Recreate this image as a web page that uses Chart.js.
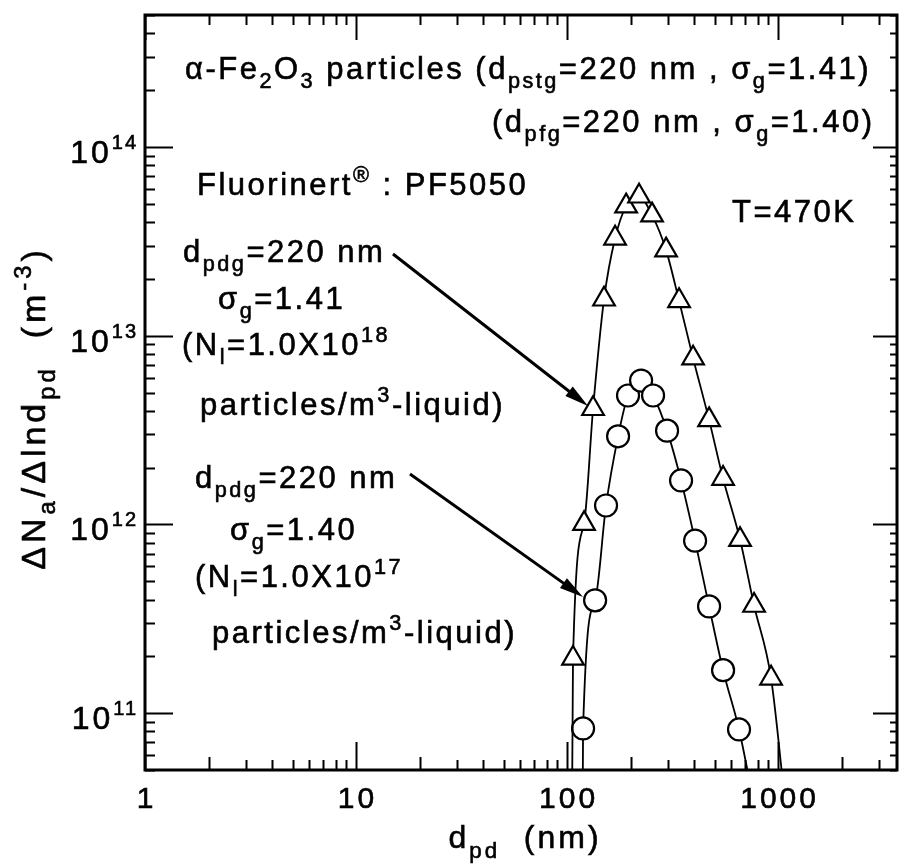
<!DOCTYPE html>
<html>
<head>
<meta charset="utf-8">
<script src="https://cdn.jsdelivr.net/npm/chart.js@4.4.0/dist/chart.umd.min.js"></script>
<style>
  html, body { margin: 0; padding: 0; background: #fff; overflow: hidden; }
  canvas { display: block; }
</style>
</head>
<body>
<canvas id="myChart" width="899" height="868"></canvas>
<script>
const ctx = document.getElementById('myChart').getContext('2d');

// axis tick labels
const xTicks = [1, 10, 100, 1000];
const yExps = [11, 12, 13, 14];

// triangles: d_pdg=220 nm, sigma_g=1.41, N_l=1.0X10^18
const triD = [105, 106.7, 120.4, 132.8, 149.7, 168.9, 190.5, 219.4, 252.8, 294.6, 339.5, 395.6, 471, 548.7, 660.5, 769.6, 926.5, 1090];
const triN = [1e10, 1.95e11, 1.01e12, 4.1e12, 1.56e13, 3.28e13, 4.86e13, 5.48e13, 4.35e13, 2.84e13, 1.53e13, 7.6e12, 3.58e12, 1.75e12, 8.3e11, 3.72e11, 1.53e11, 3e10];

// circles: d_pdg=220 nm, sigma_g=1.40, N_l=1.0X10^17
const cirD = [118, 119.1, 135.8, 153, 174.5, 194.5, 224.3, 255.6, 297.8, 346.9, 404.3, 471, 548.7, 653, 762];
const cirN = [1e10, 8.3e10, 3.96e11, 1.26e12, 2.93e12, 4.82e12, 5.78e12, 4.82e12, 3.14e12, 1.71e12, 8.2e11, 3.68e11, 1.69e11, 8.2e10, 3.5e10];

const FONT = '"Liberation Sans", Arial, Helvetica, sans-serif';

// draws text with sub/superscript parts (slightly heavy, like the scan)
function rich(c, parts, x, y, size, align) {
  let w = 0;
  const segs = parts.map(p => {
    const s = p[1] ? size * 0.7 : size;
    c.font = s + 'px ' + FONT;
    const m = c.measureText(p[0]).width;
    w += m;
    return { t: p[0], k: p[1], s: s, m: m };
  });
  let cx = align === 'right' ? x - w : align === 'center' ? x - w / 2 : x;
  c.lineWidth = 0.6;
  segs.forEach(g => {
    c.font = g.s + 'px ' + FONT;
    let dy = 0;
    if (g.k === 'sub') dy = size * 0.3;
    if (g.k === 'sup') dy = -size * 0.42;
    c.fillText(g.t, cx, y + dy);
    c.strokeText(g.t, cx, y + dy);
    cx += g.m;
  });
  return w;
}

const notes = [
  { x: 185, y: 79, parts: [['α-Fe'], ['2', 'sub'], ['O'], ['3', 'sub'], [' particles (d'], ['pstg', 'sub'], ['=220 nm , σ'], ['g', 'sub'], ['=1.41)']] },
  { x: 492, y: 132, parts: [['(d'], ['pfg', 'sub'], ['=220 nm , σ'], ['g', 'sub'], ['=1.40)']] },
  { x: 197, y: 195, parts: [['Fluorinert'], ['®', 'sup'], [' : PF5050']] },
  { x: 732, y: 222, parts: [['T=470K']] },
  { x: 183, y: 262, parts: [['d'], ['pdg', 'sub'], ['=220 nm']] },
  { x: 218, y: 309, parts: [['σ'], ['g', 'sub'], ['=1.41']] },
  { x: 182, y: 355, parts: [['(N'], ['l', 'sub'], ['=1.0X10'], ['18', 'sup']] },
  { x: 200, y: 415, parts: [['particles/m'], ['3', 'sup'], ['-liquid)']] },
  { x: 195, y: 488, parts: [['d'], ['pdg', 'sub'], ['=220 nm']] },
  { x: 230, y: 540, parts: [['σ'], ['g', 'sub'], ['=1.40']] },
  { x: 195, y: 587, parts: [['(N'], ['l', 'sub'], ['=1.0X10'], ['17', 'sup']] },
  { x: 212, y: 643, parts: [['particles/m'], ['3', 'sup'], ['-liquid)']] },
];

const arrows = [
  [393, 254, 588, 406],
  [410, 474, 583, 597],
];

function arrow(c, x1, y1, x2, y2) {
  const a = Math.atan2(y2 - y1, x2 - x1);
  const L = 24, H = 6;
  c.beginPath();
  c.moveTo(x1, y1);
  c.lineTo(x2 - Math.cos(a) * L * 0.8, y2 - Math.sin(a) * L * 0.8);
  c.stroke();
  c.beginPath();
  c.moveTo(x2, y2);
  c.lineTo(x2 - Math.cos(a) * L + Math.sin(a) * H, y2 - Math.sin(a) * L - Math.cos(a) * H);
  c.lineTo(x2 - Math.cos(a) * L - Math.sin(a) * H, y2 - Math.sin(a) * L + Math.cos(a) * H);
  c.closePath();
  c.fill();
}

const framePlugin = {
  id: 'frame',
  afterDraw(chart) {
    const c = chart.ctx;
    const xs = chart.scales.x, ys = chart.scales.y;
    const { left, right, top, bottom } = chart.chartArea;
    c.save();
    c.strokeStyle = '#000';
    c.fillStyle = '#000';
    c.lineCap = 'butt';

    // minor/major ticks, pointing inward
    c.lineWidth = 2;
    for (let e = 0; e <= 3; e++) {
      for (let m = 1; m <= 9; m++) {
        const v = m * Math.pow(10, e);
        if (v > xs.max) break;
        const px = Math.round(xs.getPixelForValue(v)) + 0.5;
        const lb = m === 1 ? 28 : (m === 2 ? 13 : 10);
        const lt = m === 1 ? 25 : 10;
        c.beginPath();
        c.moveTo(px, bottom); c.lineTo(px, bottom - lb);
        c.moveTo(px, top); c.lineTo(px, top + lt);
        c.stroke();
      }
    }
    for (let e = 10; e <= 14; e++) {
      for (let m = 1; m <= 9; m++) {
        const v = m * Math.pow(10, e);
        if (v < ys.min || v > ys.max) continue;
        const py = Math.round(ys.getPixelForValue(v)) + 0.5;
        const ll = m === 1 ? 28 : 10;
        const lr = m === 1 ? 24 : 7;
        c.beginPath();
        c.moveTo(left, py); c.lineTo(left + ll, py);
        c.moveTo(right, py); c.lineTo(right - lr, py);
        c.stroke();
      }
    }

    // frame
    c.lineWidth = 3;
    c.strokeRect(left, top, right - left, bottom - top);

    // tick labels
    c.textBaseline = 'alphabetic';
    c.letterSpacing = '3px';
    xTicks.forEach(v => {
      rich(c, [[String(v)]], xs.getPixelForValue(v) + 1.5, 808, 30, 'center');
    });
    yExps.forEach(e => {
      const py = ys.getPixelForValue(Math.pow(10, e));
      c.letterSpacing = '2px';
      c.font = '20px ' + FONT;
      const sw = c.measureText(String(e)).width;
      c.letterSpacing = '3px';
      c.font = '32px ' + FONT;
      const bw = c.measureText('10').width;
      rich(c, [['10']], 138 - sw - bw, py + 16, 32);
      c.letterSpacing = '2px';
      c.font = '20px ' + FONT;
      c.lineWidth = 0.6;
      c.fillText(String(e), 138 - sw, py + 2);
      c.strokeText(String(e), 138 - sw, py + 2);
    });

    // annotations
    c.letterSpacing = '2.5px';
    notes.forEach(n => rich(c, n.parts, n.x, n.y, 31));

    c.lineWidth = 3;
    arrows.forEach(a => arrow(c, a[0], a[1], a[2], a[3]));

    // axis titles
    c.letterSpacing = '3px';
    rich(c, [['d'], ['pd', 'sub'], ['  (nm)']], 525, 848, 32, 'center');
    c.translate(45, 408);
    c.rotate(-Math.PI / 2);
    c.letterSpacing = '4px';
    rich(c, [['ΔN'], ['a', 'sub'], ['/Δlnd'], ['pd', 'sub'], ['  (m'], ['-3', 'sup'], [')']], 0, 0, 34, 'center');
    c.restore();
  }
};

const data = {
  datasets: [
    {
      label: 'N=1.0X10^18',
      data: triD.map((d, i) => ({ x: d, y: triN[i] })),
      borderColor: '#000',
      borderWidth: 1.8,
      pointStyle: 'triangle',
      pointRadius: 12.5,
      pointBorderWidth: 2.2,
      pointBackgroundColor: '#fff',
      pointBorderColor: '#000',
      cubicInterpolationMode: 'monotone',
      fill: false,
    },
    {
      label: 'N=1.0X10^17',
      data: cirD.map((d, i) => ({ x: d, y: cirN[i] })),
      borderColor: '#000',
      borderWidth: 1.8,
      pointStyle: 'circle',
      pointRadius: 11,
      pointBorderWidth: 2.2,
      pointBackgroundColor: '#fff',
      pointBorderColor: '#000',
      cubicInterpolationMode: 'monotone',
      fill: false,
    },
  ],
};

const config = {
  type: 'line',
  data: data,
  options: {
    responsive: false,
    animation: false,
    layout: { autoPadding: false, padding: { top: 15, right: 2, left: 0, bottom: 0 } },
    plugins: { legend: { display: false }, tooltip: { enabled: false } },
    scales: {
      x: {
        type: 'logarithmic',
        min: 1,
        max: 3660,
        grid: { display: false },
        border: { display: false },
        ticks: { display: false },
        afterFit: (s) => { s.height = 98; },
      },
      y: {
        type: 'logarithmic',
        min: 5e10,
        max: 5e14,
        grid: { display: false },
        border: { display: false },
        ticks: { display: false },
        afterFit: (s) => { s.width = 145; },
      },
    },
  },
  plugins: [framePlugin],
};

const myChart = new Chart(ctx, config);
</script>
</body>
</html>
